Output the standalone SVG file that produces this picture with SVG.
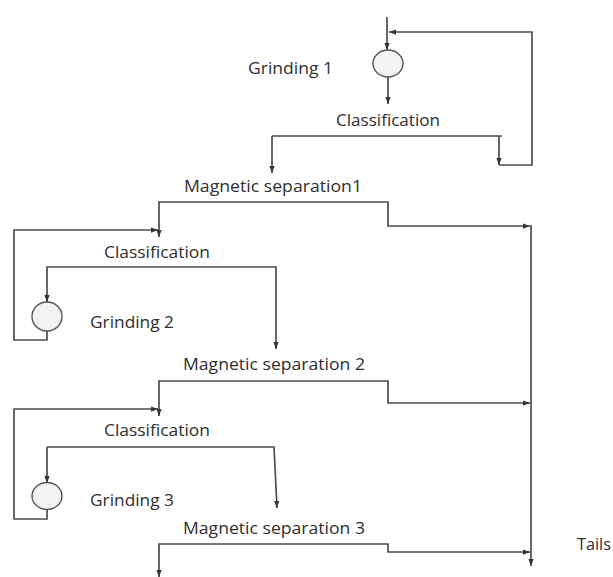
<svg xmlns="http://www.w3.org/2000/svg" width="613" height="577" viewBox="0 0 613 577">
<style>
.bg{fill:#ffffff}
.c{fill:none;stroke:#4d4d4d;stroke-width:1.7;stroke-linejoin:miter}
.a{marker-end:url(#ah)}
.b{marker-start:url(#ah);marker-end:url(#ah)}
.m{fill:#f2f2f2;stroke:#555555;stroke-width:1.4}
.t{font-family:"Open Sans","Liberation Sans",Arial,sans-serif;font-size:15.5px;fill:#2e2e2e}
</style>
<defs>
<marker id="ah" viewBox="0 0 8 6" markerWidth="7" markerHeight="5.5" refX="8" refY="3" orient="auto-start-reverse" markerUnits="userSpaceOnUse">
<path d="M0,0 L8,3 L0,6 z" fill="#333333"/>
</marker>
</defs>
<rect class="bg" x="0" y="0" width="613" height="577"/>
<g id="connectors">
<path class="c a" d="M387,17 V50"/>
<path class="c a" d="M388,77 V104"/>
<path class="c" d="M272,136 H502"/>
<path class="c a" d="M272,136 V173"/>
<path class="c a" d="M499,136 V165"/>
<path class="c a" d="M499,165 H532 V32 H389"/>
<path class="c b" d="M159,237 V202 H388 V226 H530"/>
<path class="c a" d="M47,331 V340 H14 V230 H158"/>
<path class="c b" d="M47,302 V267 H276 V349"/>
<path class="c b" d="M159,416 V381 H388 V403 H530"/>
<path class="c a" d="M47,509 V519 H14 V409 H158"/>
<path class="c a" d="M47,447 V483"/>
<path class="c a" d="M47,447 H274 L277,508"/>
<path class="c b" d="M159,577 V544 H388 V552 H530"/>
<path class="c a" d="M531,225 V566"/>
</g>
<g id="grinding1"><ellipse class="m" cx="388" cy="63.5" rx="15" ry="13.5"/><text class="t" x="248" y="74" textLength="85" lengthAdjust="spacingAndGlyphs">Grinding 1</text></g>
<g id="classification1"><text class="t" x="336" y="126" textLength="104" lengthAdjust="spacingAndGlyphs">Classification</text></g>
<g id="magsep1"><text class="t" x="184" y="192" textLength="178" lengthAdjust="spacingAndGlyphs">Magnetic separation1</text></g>
<g id="classification2"><text class="t" x="104" y="258" textLength="106" lengthAdjust="spacingAndGlyphs">Classification</text></g>
<g id="grinding2"><ellipse class="m" cx="47" cy="316.5" rx="15" ry="14.5"/><text class="t" x="90" y="328" textLength="84" lengthAdjust="spacingAndGlyphs">Grinding 2</text></g>
<g id="magsep2"><text class="t" x="183" y="370" textLength="182" lengthAdjust="spacingAndGlyphs">Magnetic separation 2</text></g>
<g id="classification3"><text class="t" x="104" y="436" textLength="106" lengthAdjust="spacingAndGlyphs">Classification</text></g>
<g id="grinding3"><ellipse class="m" cx="47" cy="496" rx="15" ry="13.5"/><text class="t" x="90" y="506" textLength="84" lengthAdjust="spacingAndGlyphs">Grinding 3</text></g>
<g id="magsep3"><text class="t" x="183" y="534" textLength="182" lengthAdjust="spacingAndGlyphs">Magnetic separation 3</text></g>
<g id="tails"><text class="t" x="577" y="550" textLength="34" lengthAdjust="spacingAndGlyphs">Tails</text></g>
</svg>
